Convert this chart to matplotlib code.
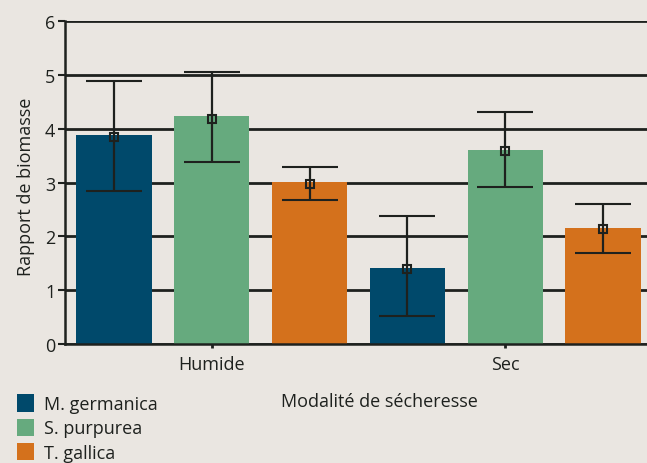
import matplotlib.pyplot as plt
import numpy as np

# data
conditions = ['Humide', 'Sec']
species = ['M. germanica', 'S. purpurea', 'T. gallica']
colors = ['#00496B', '#66AA7E', '#D4711C']

bar_heights = {
    'M. germanica': [3.88, 1.41],
    'S. purpurea': [4.24, 3.60],
    'T. gallica': [3.01, 2.15],
}
point_means = {
    'M. germanica': [3.85, 1.39],
    'S. purpurea': [4.18, 3.58],
    'T. gallica': [2.97, 2.14],
}
err_upper = {
    'M. germanica': [4.89, 2.38],
    'S. purpurea': [5.05, 4.31],
    'T. gallica': [3.29, 2.60],
}
err_lower = {
    'M. germanica': [2.84, 0.52],
    'S. purpurea': [3.38, 2.92],
    'T. gallica': [2.67, 1.69],
}

bg = '#EAE6E1'
ink = '#1E211E'
plt.rcParams['font.family'] = ['Open Sans', 'DejaVu Sans']
fs = 13

fig = plt.figure(figsize=(6.47, 4.64), dpi=100, facecolor=bg)
ax = fig.add_axes([0.1005, 0.2565, 0.8995, 0.696])
ax.set_facecolor(bg)

n = len(species)
for i, sp in enumerate(species):
    xs = np.arange(len(conditions)) * n + i
    ax.bar(xs, bar_heights[sp], width=0.77, color=colors[i], label=sp, zorder=3)
    m = np.array(point_means[sp])
    lo = m - np.array(err_lower[sp])
    hi = np.array(err_upper[sp]) - m
    ax.errorbar(xs, m, yerr=[lo, hi], fmt='s', mfc='none', mec=ink, ms=6, mew=1.5,
                ecolor=ink, elinewidth=1.6, capsize=20, capthick=1.6, zorder=4)

ax.set_xlim(-0.5, 5.45)
ax.set_ylim(0, 6)
ax.set_yticks(range(7))
ax.set_xticks([1, 4])
ax.set_xticklabels(conditions)
ax.yaxis.grid(True, color=ink, linewidth=2.0, zorder=1)
ax.set_axisbelow(True)

for s in ['top', 'right']:
    ax.spines[s].set_visible(False)
for s in ['left', 'bottom']:
    ax.spines[s].set_color(ink)
    ax.spines[s].set_linewidth(1.8)
    ax.spines[s].set_zorder(5)

ax.tick_params(axis='y', colors=ink, labelsize=fs, length=5, width=1.5, pad=2)
ax.tick_params(axis='x', colors=ink, labelsize=fs, length=6, width=2, direction='inout', pad=5)

ax.set_ylabel('Rapport de biomasse', fontsize=fs, color=ink)
ax.yaxis.set_label_coords(-0.052, 0.49)
ax.set_xlabel('Modalité de sécheresse', fontsize=fs, color=ink)
ax.xaxis.set_label_coords(0.541, -0.148)

handles, labels = ax.get_legend_handles_labels()
fig.legend(handles, labels, loc='upper left', bbox_to_anchor=(0.026, 0.148),
           frameon=False, fontsize=fs, handlelength=0.95, handleheight=1.1,
           handletextpad=0.55, labelspacing=0.3, borderpad=0, borderaxespad=0,
           labelcolor=ink)

fig.savefig('out.png', dpi=100, facecolor=bg)
